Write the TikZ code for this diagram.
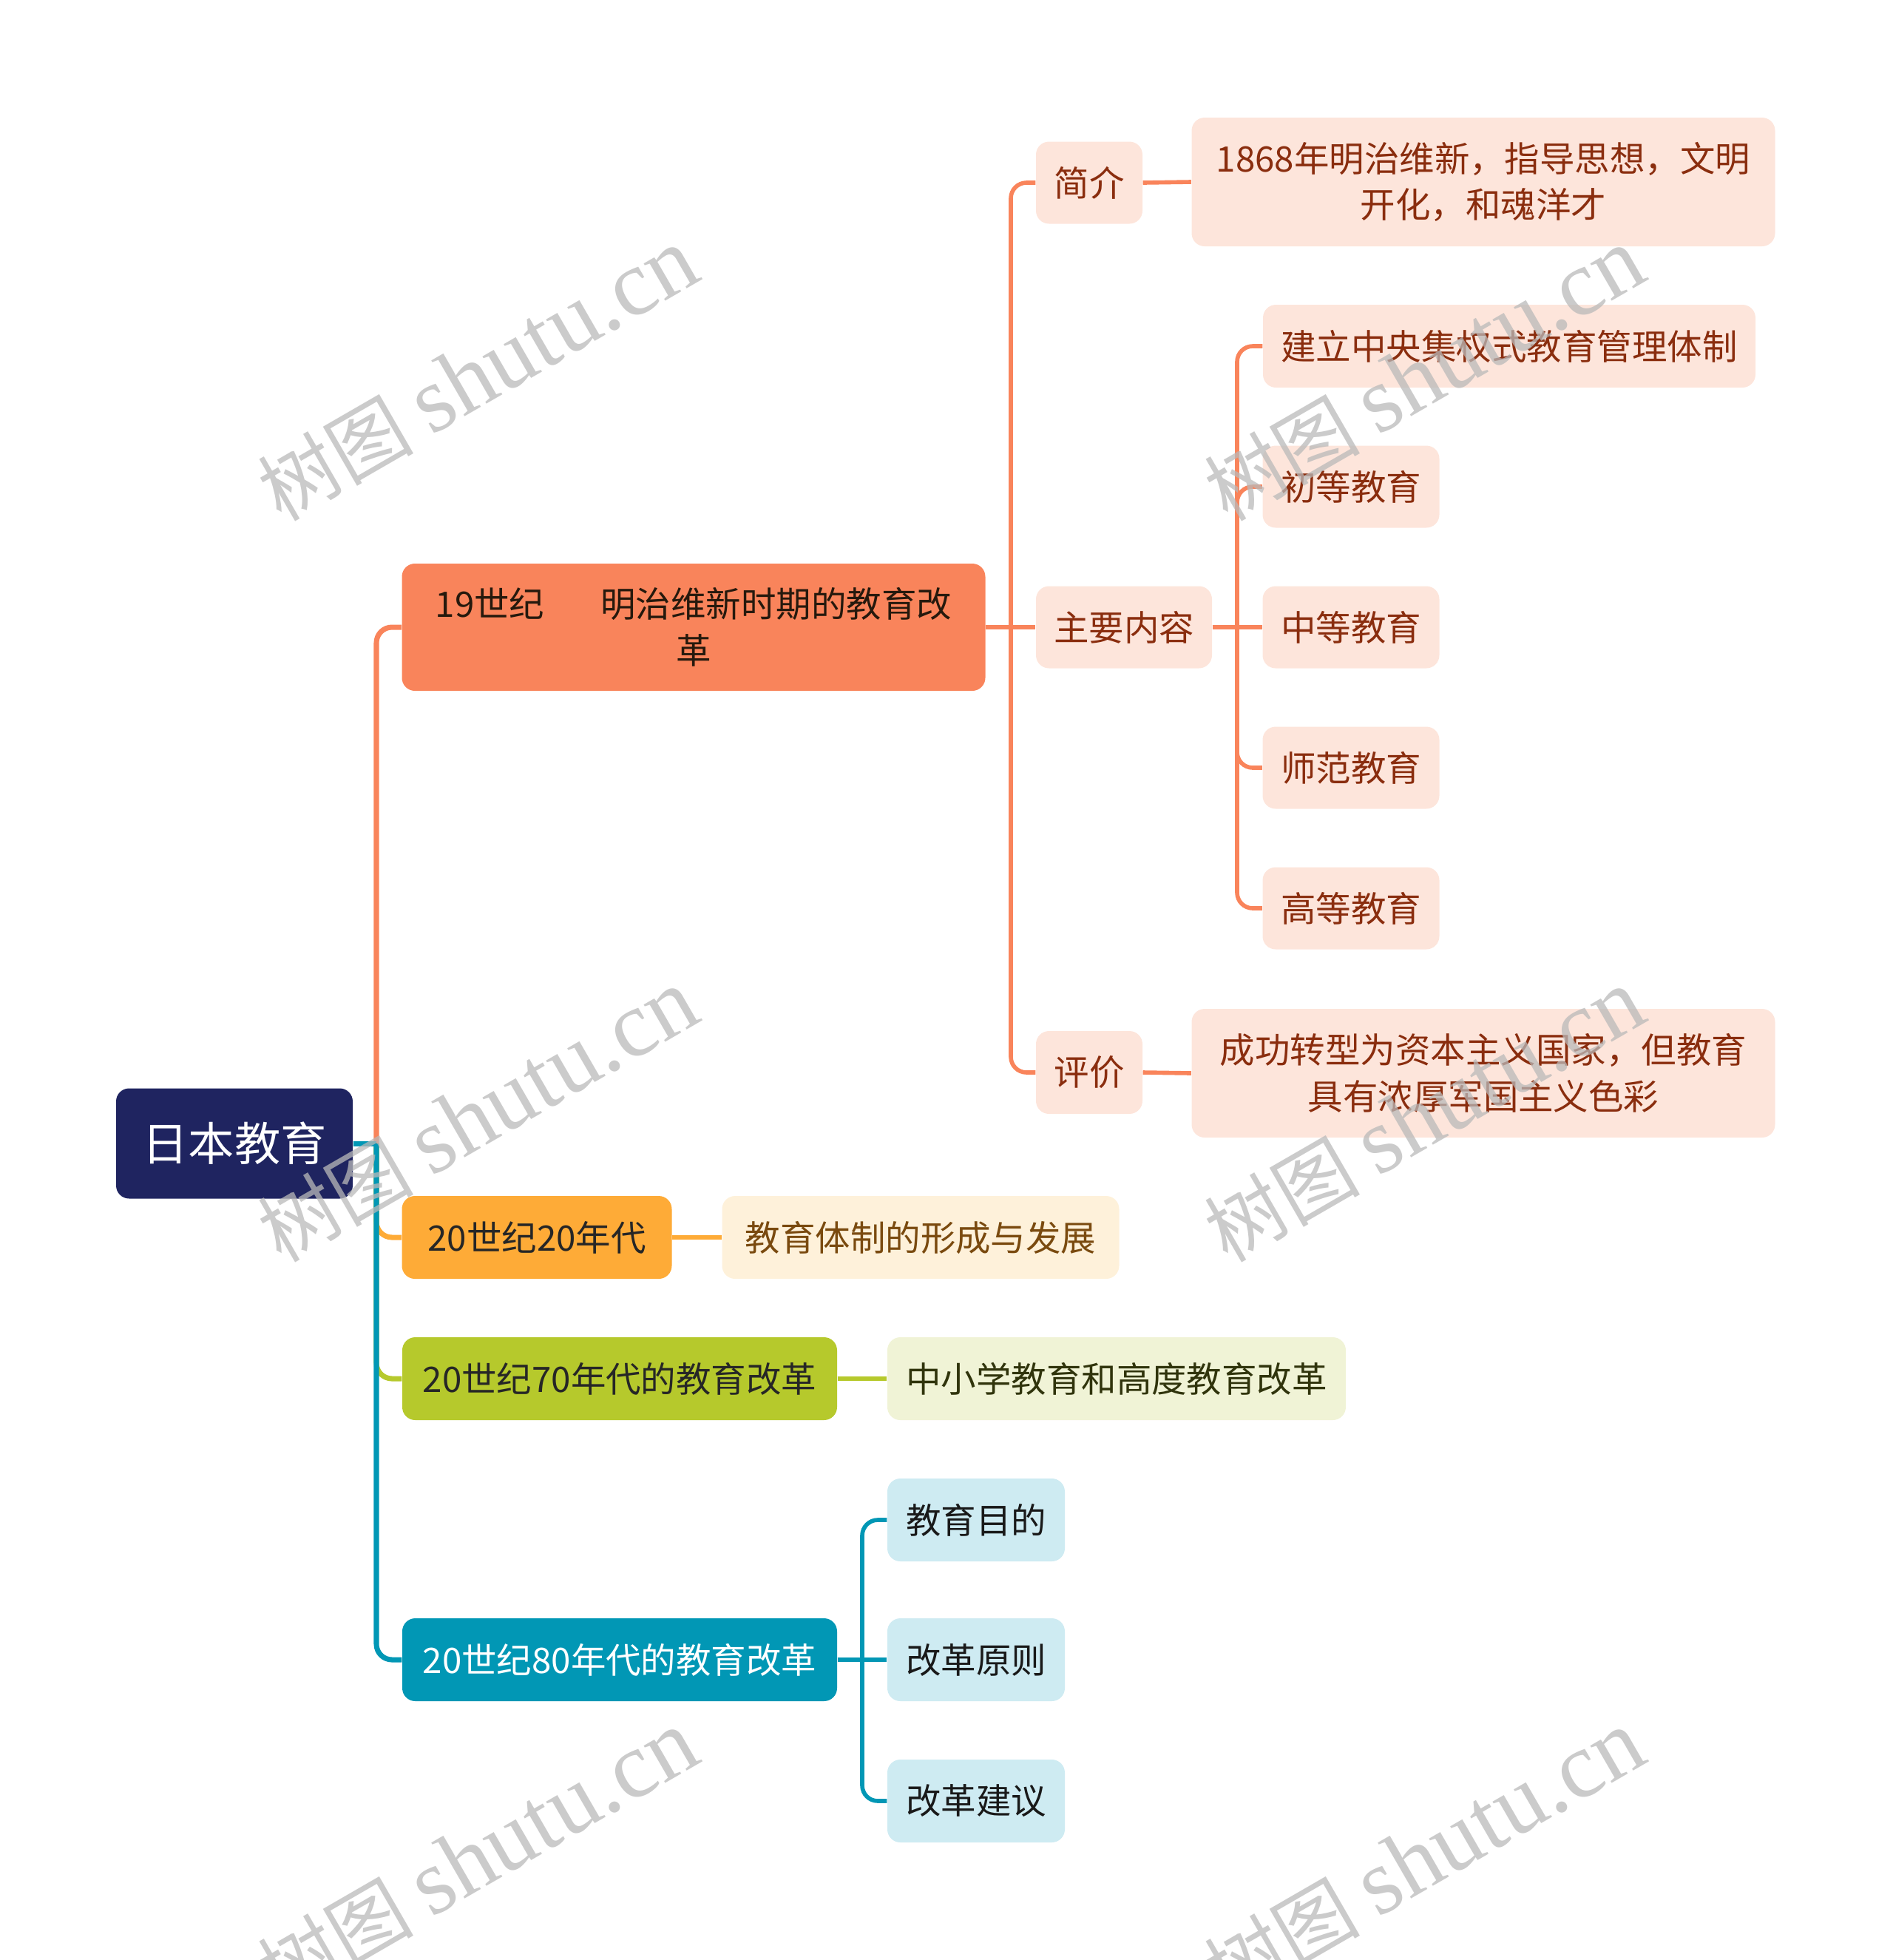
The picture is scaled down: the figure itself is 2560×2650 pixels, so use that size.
\documentclass[tikz,border=0pt]{standalone}
\usepackage{fontspec}
\setmainfont{Noto Sans CJK SC}
\newfontfamily\wmfont{Liberation Serif}
\newlength{\unitpx}
\setlength{\unitpx}{0.01cm}
% colori dei rami
\definecolor{rootblu}{HTML}{1F2460}
\definecolor{arancio}{HTML}{F9845B}
\definecolor{aranciochiaro}{HTML}{FDE5DB}
\definecolor{aranciotesto}{HTML}{8A2D0E}
\definecolor{giallo}{HTML}{FEAB37}
\definecolor{giallochiaro}{HTML}{FEF1DA}
\definecolor{giallotesto}{HTML}{7A4A0F}
\definecolor{verde}{HTML}{B6C92C}
\definecolor{verdechiaro}{HTML}{F0F3D6}
\definecolor{verdetesto}{HTML}{30340C}
\definecolor{teal}{HTML}{0197B5}
\definecolor{tealchiaro}{HTML}{CEEBF2}
\begin{document}
\begin{tikzpicture}[x=0.01cm,y=-0.01cm,
    box/.style={rounded corners=5pt,inner sep=0pt,align=center,
                font=\fontsize{13.5}{17.8}\selectfont},
    ramo/.style={line width=2pt,rounded corners=6pt},
    sotto/.style={line width=1.6pt,rounded corners=6pt},
    wm/.style={text=gray!55,text opacity=0.75,rotate=30,inner sep=0pt}]
    \useasboundingbox (0,0) rectangle (2560,2650);
    % --- radice ---
    \node[box,fill=rootblu,text=white,minimum width=320\unitpx,minimum height=149\unitpx,
          font=\fontsize{17.7}{22}\selectfont] (root) at (317,1546) {日本教育};
    \coordinate (tronco) at (509,1546);
    % --- rami principali ---
    \node[box,fill=arancio,text=black!80!brown,minimum width=789\unitpx,minimum height=172\unitpx]
        (n19) at (938,848) {19世纪\hspace{1.6em}明治维新时期的教育改\\革};
    \node[box,fill=giallo,text=black!85,minimum width=365\unitpx,minimum height=112\unitpx]
        (n20) at (726,1673) {20世纪20年代};
    \node[box,fill=verde,text=black!85,minimum width=588\unitpx,minimum height=112\unitpx]
        (n70) at (838,1864) {20世纪70年代的教育改革};
    \node[box,fill=teal,text=white,minimum width=588\unitpx,minimum height=112\unitpx]
        (n80) at (838,2244) {20世纪80年代的教育改革};
    % --- figli del 19 secolo ---
    \node[box,fill=aranciochiaro,text=aranciotesto,minimum width=144\unitpx,minimum height=111\unitpx]
        (jianjie) at (1473,247) {简介};
    \node[box,fill=aranciochiaro,text=aranciotesto,minimum width=789\unitpx,minimum height=174\unitpx]
        (jianjietesto) at (2006,246) {1868年明治维新，指导思想，文明\\开化，和魂洋才};
    \node[box,fill=aranciochiaro,text=aranciotesto,minimum width=238\unitpx,minimum height=111\unitpx]
        (zhuyao) at (1520,848) {主要内容};
    \node[box,fill=aranciochiaro,text=aranciotesto,minimum width=144\unitpx,minimum height=112\unitpx]
        (pingjia) at (1473,1450) {评价};
    \node[box,fill=aranciochiaro,text=aranciotesto,minimum width=789\unitpx,minimum height=174\unitpx]
        (pingjiatesto) at (2006,1451) {成功转型为资本主义国家，但教育\\具有浓厚军国主义色彩};
    % --- contenuti principali ---
    \node[box,fill=aranciochiaro,text=aranciotesto,minimum width=666\unitpx,minimum height=112\unitpx]
        (z1) at (2041,468) {建立中央集权式教育管理体制};
    \foreach \i/\y/\t in {2/658/初等教育,3/848/中等教育,4/1038/师范教育,5/1228/高等教育}
        \node[box,fill=aranciochiaro,text=aranciotesto,minimum width=239\unitpx,minimum height=111\unitpx]
            (z\i) at (1827,\y) {\t};
    % --- foglie degli altri rami ---
    \node[box,fill=giallochiaro,text=giallotesto,minimum width=537\unitpx,minimum height=112\unitpx]
        (n20a) at (1245,1673) {教育体制的形成与发展};
    \node[box,fill=verdechiaro,text=verdetesto,minimum width=620\unitpx,minimum height=112\unitpx]
        (n70a) at (1510,1864) {中小学教育和高度教育改革};
    \foreach \i/\y/\t in {a/2055/教育目的,b/2244/改革原则,c/2435/改革建议}
        \node[box,fill=tealchiaro,text=black!90,minimum width=240\unitpx,minimum height=112\unitpx]
            (n80\i) at (1320,\y) {\t};
    % --- connettori ---
    \draw[ramo,arancio] (tronco) |- (n19.west);
    \draw[ramo,giallo] (tronco) |- (n20.west);
    \draw[ramo,verde] (tronco) |- (n70.west);
    \draw[ramo,teal] (tronco) |- (n80.west);
    \draw[ramo,teal] (root.east) -- (tronco);
    \coordinate (t19) at (1367,848);
    \draw[sotto,arancio] (n19.east) -- (zhuyao.west);
    \foreach \n in {jianjie,pingjia}
        \draw[sotto,arancio] (t19) |- (\n.west);
    \draw[sotto,arancio] (jianjie.east) -- (jianjietesto.west);
    \draw[sotto,arancio] (pingjia.east) -- (pingjiatesto.west);
    \coordinate (tz) at (1673,848);
    \draw[sotto,arancio] (zhuyao.east) -- (z3.west);
    \foreach \n in {z1,z2,z4,z5}
        \draw[sotto,arancio] (tz) |- (\n.west);
    \draw[sotto,giallo] (n20.east) -- (n20a.west);
    \draw[sotto,verde] (n70.east) -- (n70a.west);
    \coordinate (t80) at (1166,2244);
    \draw[sotto,teal] (n80.east) -- (n80b.west);
    \foreach \n in {n80a,n80c}
        \draw[sotto,teal] (t80) |- (\n.west);
    % --- filigrana ---
    \foreach \i/\x/\y in {1/646/507,2/1926/507,3/646/1509,4/1926/1509,5/646/2511,6/1926/2511}
        \node[wm] (wm\i) at (\x,\y) {\fontsize{30}{36}\selectfont 树图 {\wmfont\fontsize{36}{40}\selectfont shutu.cn}};
\end{tikzpicture}
\end{document}
